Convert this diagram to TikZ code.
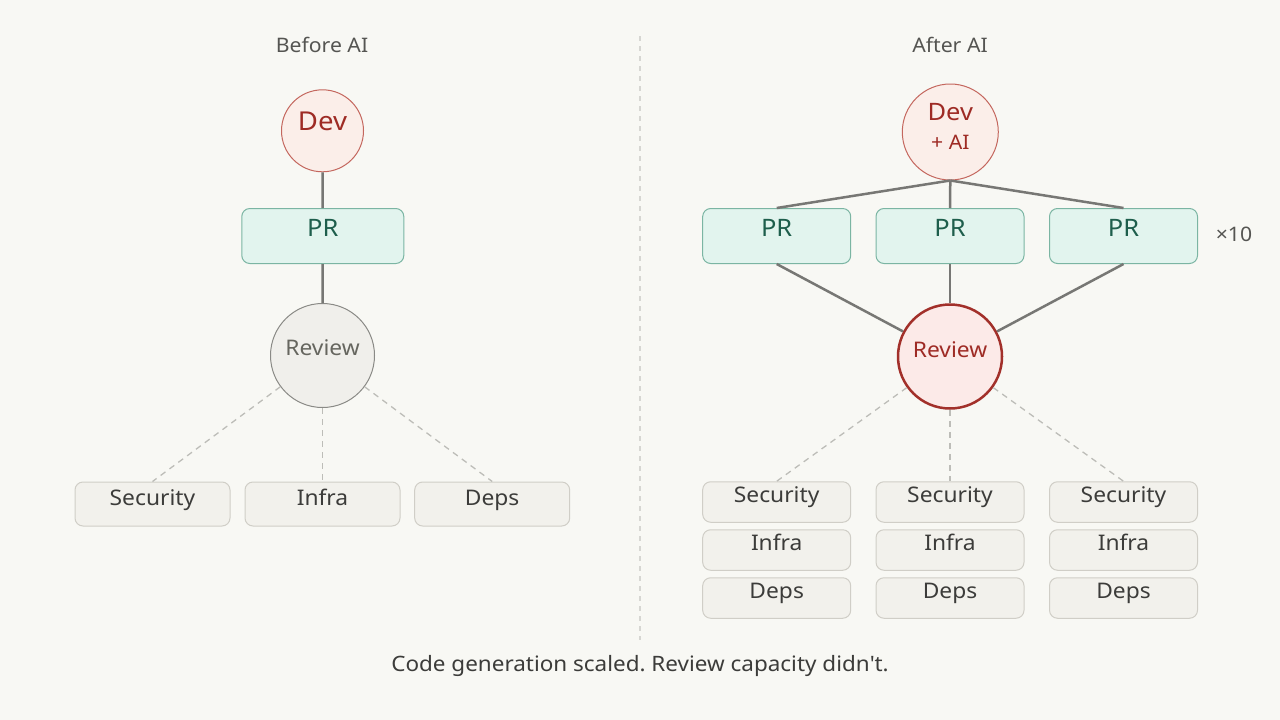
\documentclass[tikz,border=0pt]{standalone}
\usepackage{fontspec}
\setmainfont{Noto Sans}[FakeStretch=1.06]
\frenchspacing
\definecolor{bg}{HTML}{F8F8F4}
\definecolor{devfill}{HTML}{FBEEE9}
\definecolor{devstroke}{HTML}{C4675E}
\definecolor{redtext}{HTML}{9E2B25}
\definecolor{prfill}{HTML}{E2F4EE}
\definecolor{prstroke}{HTML}{7BB5A3}
\definecolor{prtext}{HTML}{1E5E4C}
\definecolor{revfill}{HTML}{F0EFEB}
\definecolor{revstroke}{HTML}{8A8A86}
\definecolor{revtext}{HTML}{66665F}
\definecolor{rev2fill}{HTML}{FCEAE8}
\definecolor{rev2stroke}{HTML}{A2302A}
\definecolor{boxfill}{HTML}{F2F1EC}
\definecolor{boxstroke}{HTML}{D0CEC7}
\definecolor{boxtext}{HTML}{3C3C3A}
\definecolor{linecol}{HTML}{777774}
\definecolor{dashcol}{HTML}{BDBDB8}
\definecolor{divcol}{HTML}{D6D6D2}
\definecolor{titletext}{HTML}{555552}
\begin{document}
\begin{tikzpicture}[x=1pt,y=-1pt,
  devcircle/.style={circle,draw=devstroke,fill=devfill,line width=1pt,inner sep=0},
  prbox/.style={draw=prstroke,fill=prfill,rounded corners=8pt,line width=1pt,minimum height=55pt,inner sep=0},
  revcircle/.style={circle,draw=revstroke,fill=revfill,line width=1pt,minimum size=104pt,inner sep=0},
  rev2circle/.style={circle,draw=rev2stroke,fill=rev2fill,line width=2.5pt,minimum size=104pt,inner sep=0},
  smallbox/.style={draw=boxstroke,fill=boxfill,rounded corners=8pt,line width=1pt,inner sep=0},
  lbl/.style={anchor=base,inner sep=0},
  conn/.style={draw=linecol,line width=2.5pt},
  dconn/.style={draw=dashcol,line width=1.3pt,dash pattern=on 6pt off 5pt},
  boxlbl/.style={lbl,text=boxtext,font=\fontsize{21.5}{26}\selectfont},
  prlbl/.style={lbl,text=prtext,font=\fontsize{24}{28}\selectfont},
  revlbl/.style={lbl,font=\fontsize{21.5}{26}\selectfont},
  titlelbl/.style={lbl,text=titletext,font=\fontsize{20}{24}\selectfont}
]
\fill[bg] (0,0) rectangle (1280,720);
\useasboundingbox (0,0) rectangle (1280,720);

% divider
\coordinate (divtop) at (640,36);
\coordinate (divbot) at (640,640);
\draw[divcol,line width=1.2pt,dash pattern=on 5pt off 5pt] (divtop) -- (divbot);

% titles
\node[titlelbl] (t1) at (322,52) {Before AI};
\node[titlelbl] (t2) at (950,52) {After AI};

% ===== Left =====
\node[devcircle,minimum size=82pt] (dev1) at (322.5,130.8) {};
\node[lbl,text=redtext,font=\fontsize{26}{30}\selectfont] (dev1t) at (dev1.center) {Dev};
\node[prbox,minimum width=162pt] (pr1) at (322.8,236) {};
\node[prlbl] (pr1t) at (pr1.center) {PR};
\node[revcircle] (rev1) at (322.5,355.5) {};
\node[revlbl,text=revtext] (rev1t) at (rev1.center) {Review};

\draw[conn] (dev1) -- (pr1);
\draw[conn] (pr1) -- (rev1);

\node[smallbox,minimum width=155pt,minimum height=44pt] (s1) at (152.5,504) {};
\node[smallbox,minimum width=155pt,minimum height=44pt] (i1) at (322.5,504) {};
\node[smallbox,minimum width=155pt,minimum height=44pt] (d1) at (492.2,504) {};
\node[boxlbl] (s1t) at ([yshift=-1pt]s1.center) {Security};
\node[boxlbl] (i1t) at ([yshift=-1pt]i1.center) {Infra};
\node[boxlbl] (d1t) at ([yshift=-1pt]d1.center) {Deps};

\draw[dconn] (rev1) -- (s1.north);
\draw[dconn] (rev1) -- (i1.north);
\draw[dconn] (rev1) -- (d1.north);

% ===== Right =====
\node[devcircle,minimum size=96pt] (dev2) at (950.3,132) {};
\node[lbl,text=redtext,font=\fontsize{24}{28}\selectfont] (dev2t) at ([yshift=12pt]dev2.center) {Dev};
\node[lbl,text=redtext,font=\fontsize{20}{24}\selectfont] (dev2ai) at ([yshift=-17pt]dev2.center) {+ AI};

\node[prbox,minimum width=148pt] (pra) at (776.7,236) {};
\node[prbox,minimum width=148pt] (prb) at (950,236) {};
\node[prbox,minimum width=148pt] (prc) at (1123.5,236) {};
\node[prlbl] (prat) at (pra.center) {PR};
\node[prlbl] (prbt) at (prb.center) {PR};
\node[prlbl] (prct) at (prc.center) {PR};
\node[titlelbl] (x10) at (1234,241) {×10};

\node[rev2circle] (rev2) at (950,356.5) {};
\node[revlbl,text=redtext] (rev2t) at ([yshift=-0.5pt]rev2.center) {Review};

\draw[conn] (dev2.south) -- (pra.north);
\draw[conn] (dev2.south) -- (prb.north);
\draw[conn] (dev2.south) -- (prc.north);
\draw[conn] (pra.south) -- (rev2);
\draw[conn] (prb.south) -- (rev2);
\draw[conn] (prc.south) -- (rev2);

\foreach \n/\x in {a/776.7,b/950,c/1123.5}{
  \node[smallbox,minimum width=148pt,minimum height=40.5pt] (s\n) at (\x,502) {};
  \node[smallbox,minimum width=148pt,minimum height=40.5pt] (i\n) at (\x,550) {};
  \node[smallbox,minimum width=148pt,minimum height=40.5pt] (d\n) at (\x,598) {};
  \node[boxlbl] (s\n t) at (s\n.center) {Security};
  \node[boxlbl] (i\n t) at (i\n.center) {Infra};
  \node[boxlbl] (d\n t) at (d\n.center) {Deps};
  \draw[dconn] (rev2) -- (s\n.north);
}

% caption
\node[lbl,text=boxtext,font=\fontsize{21.2}{25}\selectfont] (cap) at (640,671) {Code generation scaled. Review capacity didn\textquotesingle t.};
\end{tikzpicture}
\end{document}
